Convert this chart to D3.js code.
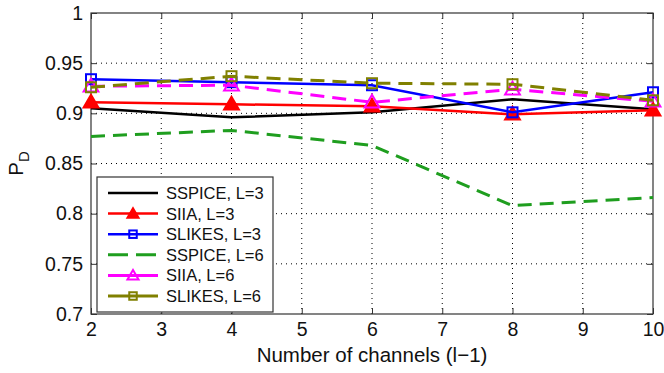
<!DOCTYPE html>
<html lang="en">
  <head>
    <meta charset="UTF-8" />
    <title>PD vs channels</title>
    <style>
      body {
        margin: 0;
        background: #fff;
      }
      svg text {
        font-family: "Liberation Sans", Arial, sans-serif;
      }
    </style>
  </head>
  <body>
    <svg id="svg" width="664" height="373"></svg>
    <script src="https://cdn.jsdelivr.net/npm/d3@7"></script>
    <script>
      // CONSTANTS
      const WIDTH = 664;
      const HEIGHT = 373;
      const MARGIN = { top: 13, right: 11, bottom: 59, left: 91 };

      // data
      const channels = [2, 4, 6, 8, 10];
      const sspiceL3 = [0.905, 0.896, 0.901, 0.914, 0.904];
      const siiaL3 = [0.911, 0.909, 0.907, 0.899, 0.903];
      const slikesL3 = [0.934, 0.931, 0.928, 0.901, 0.921];
      const sspiceL6 = [0.877, 0.883, 0.868, 0.808, 0.816];
      const siiaL6 = [0.927, 0.928, 0.911, 0.924, 0.912];
      const slikesL6 = [0.926, 0.937, 0.930, 0.929, 0.913];

      const xTicks = [2, 3, 4, 5, 6, 7, 8, 9, 10];
      const yTicks = [0.7, 0.75, 0.8, 0.85, 0.9, 0.95, 1];

      const series = [
        { name: "SSPICE, L=3", values: sspiceL3, color: "#000000", dash: null, legDash: null, marker: null },
        { name: "SIIA, L=3", values: siiaL3, color: "#ff0000", dash: null, legDash: null, marker: "triFilled" },
        { name: "SLIKES, L=3", values: slikesL3, color: "#0000ff", dash: null, legDash: null, marker: "square" },
        { name: "SSPICE, L=6", values: sspiceL6, color: "#1f9e1f", dash: "14,8", legDash: "20,8", marker: null },
        { name: "SIIA, L=6", values: siiaL6, color: "#ff00ff", dash: "14,8", legDash: null, marker: "tri" },
        { name: "SLIKES, L=6", values: slikesL6, color: "#808000", dash: "14,8", legDash: null, marker: "square" },
      ];

      const svg = d3.select("#svg");
      const innerW = WIDTH - MARGIN.left - MARGIN.right;
      const innerH = HEIGHT - MARGIN.top - MARGIN.bottom;

      const x = d3.scaleLinear().domain([2, 10]).range([MARGIN.left, MARGIN.left + innerW]);
      const y = d3.scaleLinear().domain([0.7, 1]).range([MARGIN.top + innerH, MARGIN.top]);

      // dotted grid
      const grid = svg.append("g");
      grid
        .selectAll("line.vx")
        .data(xTicks.slice(1, -1))
        .enter()
        .append("line")
        .attr("x1", (d) => x(d))
        .attr("x2", (d) => x(d))
        .attr("y1", y(0.7))
        .attr("y2", y(1))
        .attr("stroke", "#000")
        .attr("stroke-width", 1)
        .attr("stroke-dasharray", "1,4");
      grid
        .selectAll("line.hy")
        .data(yTicks.slice(1, -1))
        .enter()
        .append("line")
        .attr("x1", x(2))
        .attr("x2", x(10))
        .attr("y1", (d) => y(d))
        .attr("y2", (d) => y(d))
        .attr("stroke", "#000")
        .attr("stroke-width", 1)
        .attr("stroke-dasharray", "1,4");

      // axes, ticks pointing inward like matlab
      const fmt = (d) => d3.format("")(d);
      const axisStyle = (g) => {
        g.select(".domain").remove();
        g.selectAll("line").attr("stroke", "#333");
        g.selectAll("text").attr("fill", "#111").style("font-size", "19.5px");
      };
      svg
        .append("g")
        .attr("transform", `translate(0,${y(0.7)})`)
        .call(d3.axisBottom(x).tickValues(xTicks).tickSize(-6).tickPadding(8).tickFormat(fmt))
        .call(axisStyle);
      svg
        .append("g")
        .attr("transform", `translate(0,${y(1)})`)
        .call(d3.axisTop(x).tickValues(xTicks).tickSize(-6).tickFormat(""))
        .call(axisStyle);
      svg
        .append("g")
        .attr("transform", `translate(${x(2)},0)`)
        .call(d3.axisLeft(y).tickValues(yTicks).tickSize(-6).tickPadding(8).tickFormat(fmt))
        .call(axisStyle);
      svg
        .append("g")
        .attr("transform", `translate(${x(10)},0)`)
        .call(d3.axisRight(y).tickValues(yTicks).tickSize(-6).tickFormat(""))
        .call(axisStyle);

      svg
        .append("rect")
        .attr("x", x(2))
        .attr("y", y(1))
        .attr("width", innerW)
        .attr("height", innerH)
        .attr("fill", "none")
        .attr("stroke", "#333")
        .attr("stroke-width", 1.2);

      // markers
      function drawMarker(g, kind, color, cx, cy, scale) {
        const s = scale || 1;
        if (kind === "triFilled" || kind === "tri") {
          g.append("path")
            .attr("d", d3.symbol().type(d3.symbolTriangle).size(95 * s * s))
            .attr("transform", `translate(${cx},${cy + 1})`)
            .attr("fill", kind === "triFilled" ? color : "none")
            .attr("stroke", color)
            .attr("stroke-width", 2);
        } else if (kind === "square") {
          const h = 5 * s;
          g.append("rect")
            .attr("x", cx - h)
            .attr("y", cy - h)
            .attr("width", 2 * h)
            .attr("height", 2 * h)
            .attr("fill", "none")
            .attr("stroke", color)
            .attr("stroke-width", 2);
        }
      }

      const lineGen = d3
        .line()
        .x((d, i) => x(channels[i]))
        .y((d) => y(d));

      const plot = svg.append("g");
      series.forEach((s) => {
        const g = plot.append("g");
        g.append("path")
          .attr("d", lineGen(s.values))
          .attr("fill", "none")
          .attr("stroke", s.color)
          .attr("stroke-width", s.dash ? 3 : 2.5)
          .attr("stroke-dasharray", s.dash);
        if (s.marker) {
          s.values.forEach((v, i) => drawMarker(g, s.marker, s.color, x(channels[i]), y(v)));
        }
      });

      // legend
      const legend = svg.append("g").attr("transform", "translate(97,177)");
      legend
        .append("rect")
        .attr("width", 176)
        .attr("height", 135)
        .attr("fill", "#fff")
        .attr("stroke", "#333")
        .attr("stroke-width", 1.2);
      series.forEach((s, i) => {
        const ry = 16 + i * 20.6;
        legend
          .append("line")
          .attr("x1", 11)
          .attr("x2", 61)
          .attr("y1", ry)
          .attr("y2", ry)
          .attr("stroke", s.color)
          .attr("stroke-width", s.dash ? 3 : 2.5)
          .attr("stroke-dasharray", s.legDash);
        if (s.marker) drawMarker(legend, s.marker, s.color, 36, ry, 0.75);
        legend
          .append("text")
          .attr("x", 69)
          .attr("y", ry + 6)
          .style("font-size", "16.5px")
          .attr("fill", "#111")
          .text(s.name);
      });

      // axis labels
      svg
        .append("text")
        .attr("x", x(6))
        .attr("y", 362)
        .attr("text-anchor", "middle")
        .style("font-size", "20.5px")
        .attr("fill", "#111")
        .text("Number of channels (l\u22121)");

      const yl = svg
        .append("text")
        .attr("transform", `translate(23,${y(0.85)}) rotate(-90)`)
        .attr("text-anchor", "middle")
        .style("font-size", "20.5px")
        .attr("fill", "#111");
      yl.append("tspan").text("P");
      yl.append("tspan").attr("dy", 6).style("font-size", "15px").text("D");
    </script>
  </body>
</html>
